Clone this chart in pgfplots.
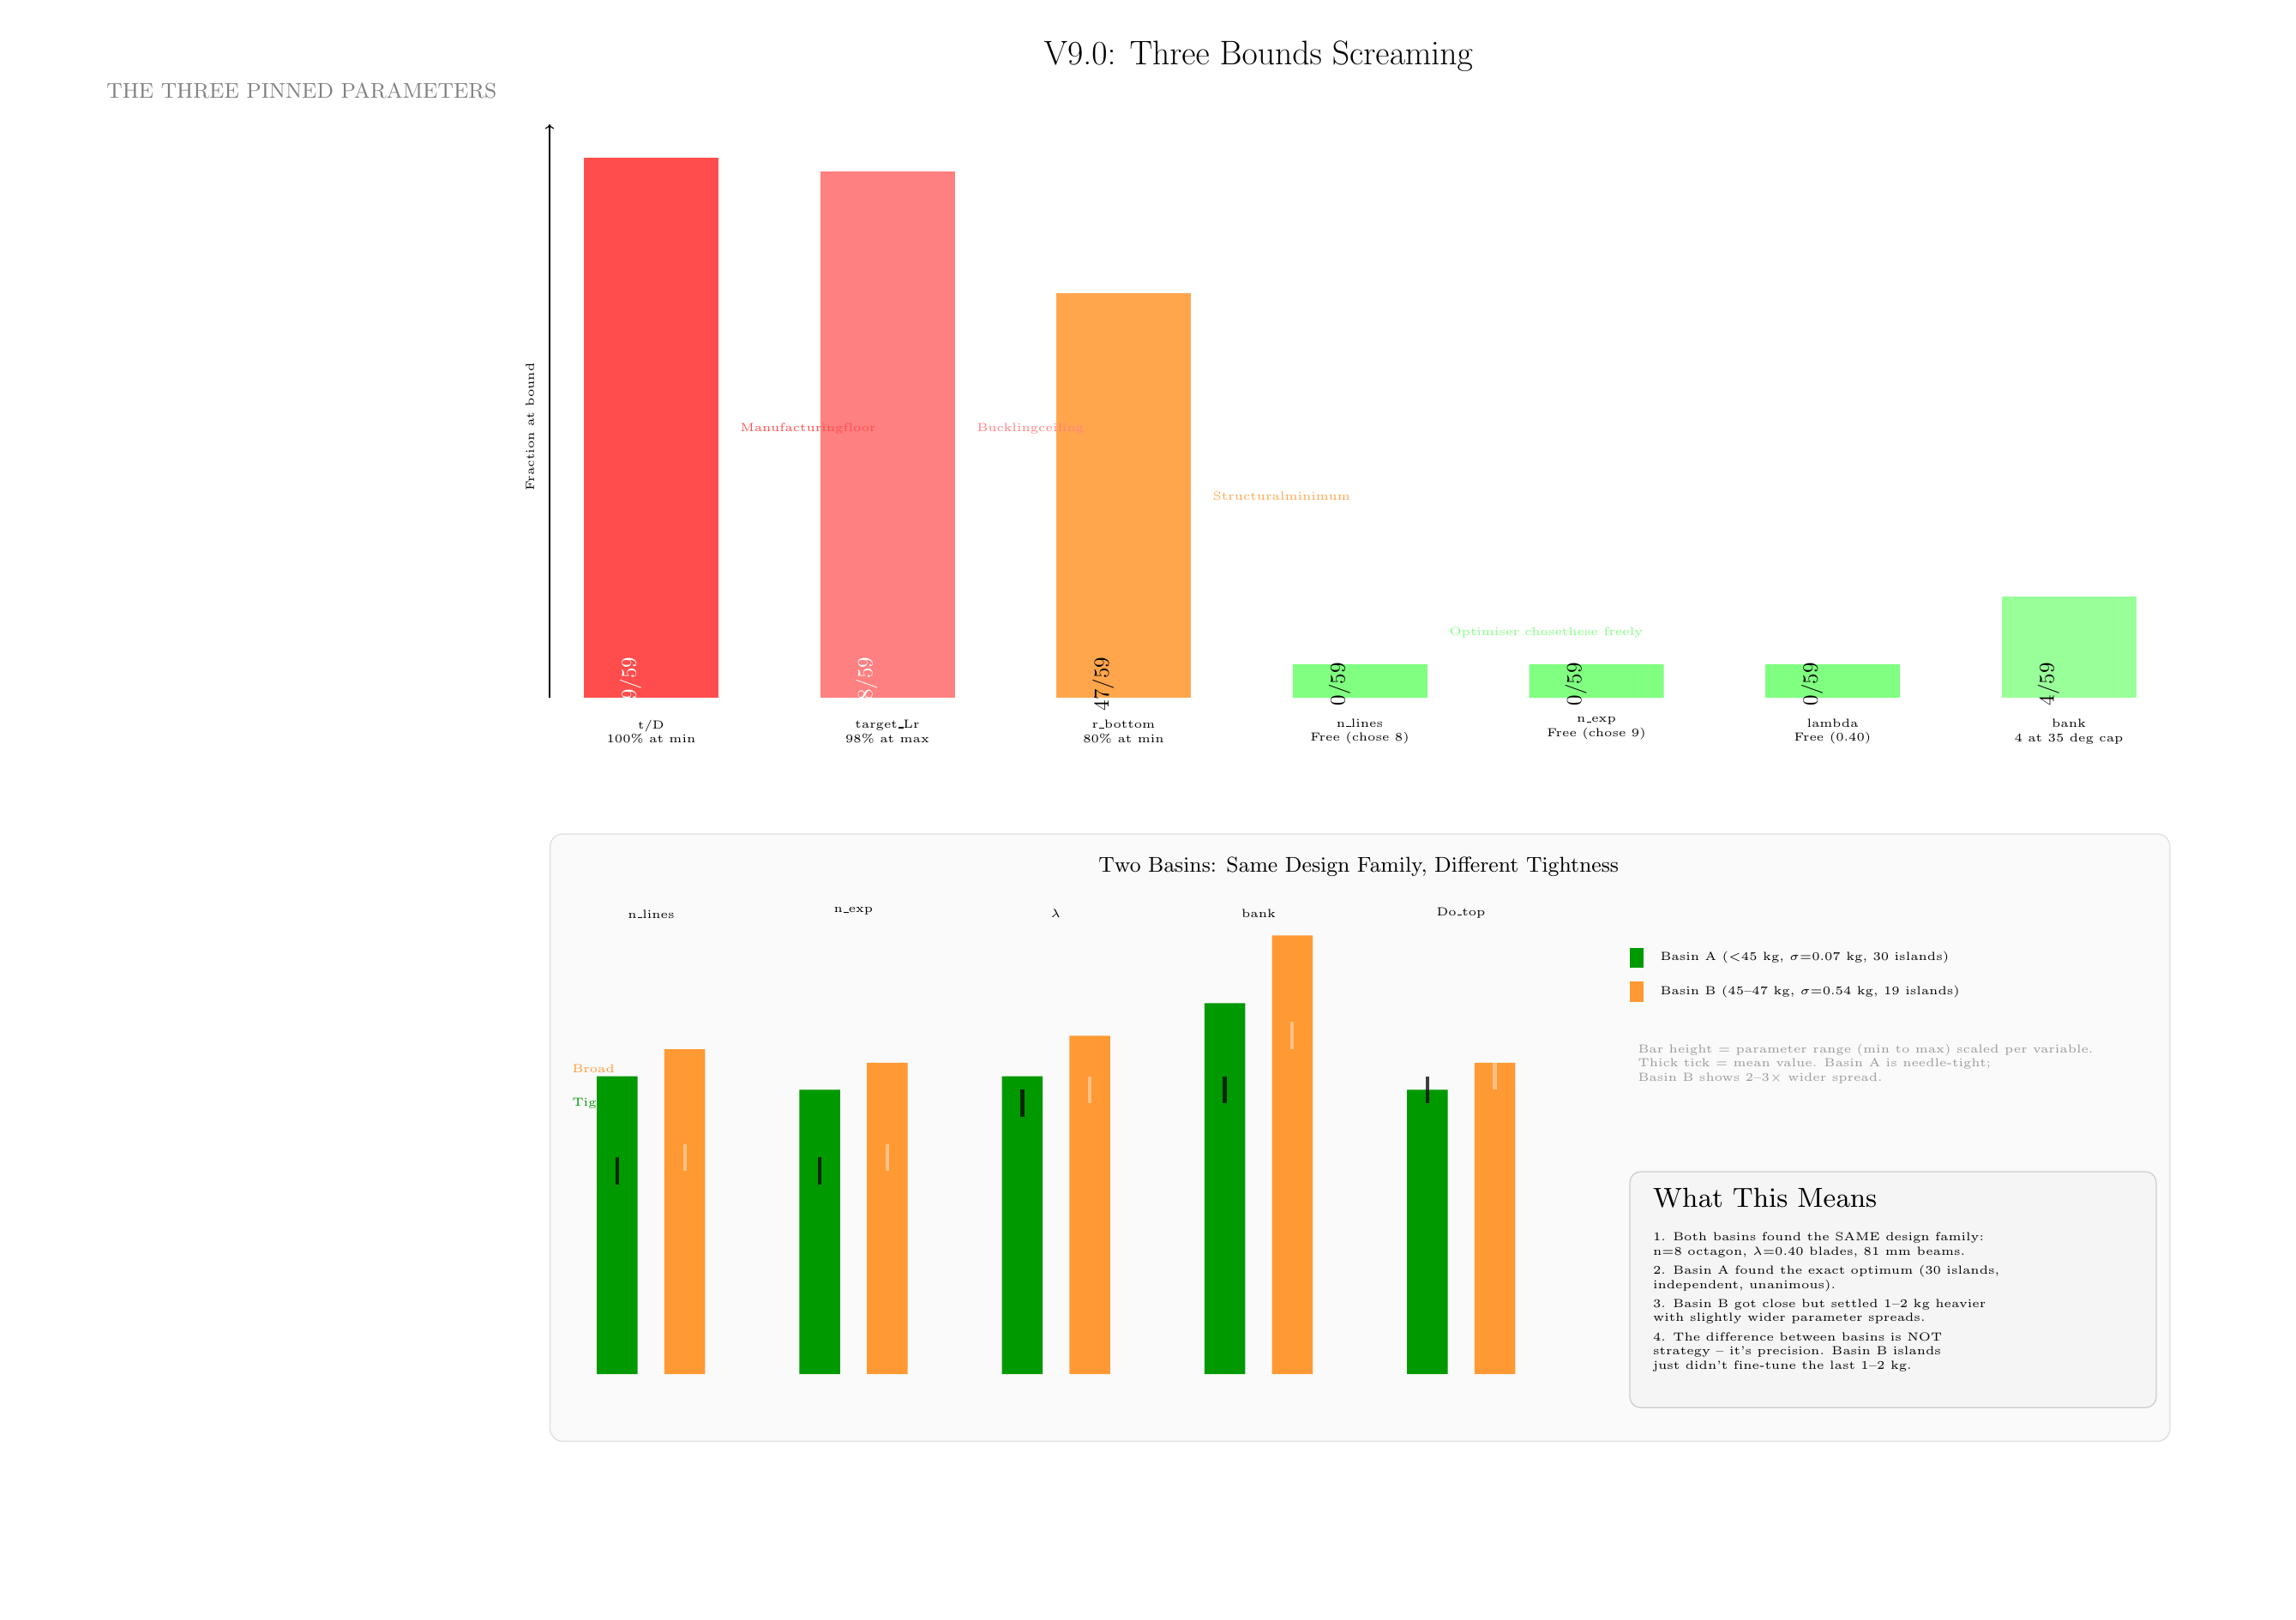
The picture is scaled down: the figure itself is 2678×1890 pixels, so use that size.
\documentclass[border=0pt]{standalone}
\usepackage[OT1]{fontenc}
\usepackage{pgfplots}
\pgfplotsset{compat=1.18}
\definecolor{rA}{HTML}{FF4D4D}
\definecolor{rB}{HTML}{FF8080}
\definecolor{oA}{HTML}{FFA64D}
\definecolor{gA}{HTML}{80FF80}
\definecolor{gB}{HTML}{99FF99}
\definecolor{basinA}{HTML}{009900}
\definecolor{basinB}{HTML}{FF9933}
\begin{document}
\begin{tikzpicture}[x=0.4pt,y=-0.4pt,
  sm/.style={inner sep=0pt,font=\tiny,scale=1.10},
  cat/.style={sm,align=center,anchor=center},
  line/.style={sm,anchor=base west},
  note/.style={sm,anchor=base west,text=black!40}]
\path[fill=white] (0,0) rectangle (2678,1890);
% panel
\draw[fill=black!2,draw=black!13,line width=0.5pt,rounded corners=6pt] (641.5,973) rectangle (2531,1681.5);
\node[anchor=center,inner sep=0pt,font=\bfseries\LARGE,scale=0.92] at (1468,66) {V9.0: Three Bounds Screaming};
\node[anchor=center,inner sep=0pt,font=\bfseries\small,text=black!50,scale=1.104] at (352,106) {THE THREE PINNED PARAMETERS};
\node[anchor=center,inner sep=0pt,font=\bfseries\small,scale=1.112] at (1585,1011) {Two Basins: Same Design Family, Different Tightness};
% labels under bars
\node[sm,anchor=base west,text=basinB] at (667,1251) {Broad};
\node[sm,anchor=base west,text=basinA] at (667,1290) {Tight};
% top chart
\begin{axis}[at={(256.4pt,-325.6pt)},anchor=south west,scale only axis,
  width=764pt,height=267.6pt,xmin=-0.4299,xmax=6.5,ymin=0,ymax=106.2,
  axis x line=none,axis y line*=left,y axis line style={-to,line width=0.6pt},
  ytick=\empty,clip=false]
\pgfplotsset{every axis plot/.append style={ybar,bar width=62.8pt,bar shift=0pt,draw=none}}
\addplot[fill=rA] coordinates {(0,100)};
\addplot[fill=rB] coordinates {(1,97.5)};
\addplot[fill=oA] coordinates {(2,75)};
\addplot[fill=gA] coordinates {(3,6.2)(4,6.2)(5,6.2)};
\addplot[fill=gB] coordinates {(6,18.7)};
\node[rotate=90,text=white,inner sep=0pt] at (axis cs:-0.087,2.54) {59/59};
\node[rotate=90,text=white,inner sep=0pt] at (axis cs:0.913,2.54) {58/59};
\node[rotate=90,inner sep=0pt] at (axis cs:1.913,2.54) {47/59};
\node[rotate=90,inner sep=0pt] at (axis cs:2.913,2.54) {0/59};
\node[rotate=90,inner sep=0pt] at (axis cs:3.913,2.54) {0/59};
\node[rotate=90,inner sep=0pt] at (axis cs:4.913,2.54) {0/59};
\node[rotate=90,inner sep=0pt] at (axis cs:5.913,2.54) {4/59};
\end{axis}
\node[sm,rotate=90,anchor=center] at (618,498) {Fraction at bound};
\node[cat] at (759.5,853.5) {t/D\\100\% at min};
\node[cat] at (1035,853.5) {target\_Lr\\98\% at max};
\node[cat] at (1310.5,853.5) {r\_bottom\\80\% at min};
\node[cat] at (1586,853.5) {n\_lines\\Free (chose 8)};
\node[cat] at (1862,850) {n\_exp\\Free (chose 9)};
\node[cat] at (2137.5,853.5) {lambda\\Free (0.40)};
\node[cat] at (2413,853.5) {bank\\4 at 35 deg cap};
\node[sm,anchor=base west,text=rA] at (863,503.5) {Manufacturingfloor};
\node[sm,anchor=base west,text=rB] at (1139,503.5) {Bucklingceiling};
\node[sm,anchor=base west,text=oA] at (1414,583.5) {Structuralminimum};
\node[sm,anchor=base west,text=gA] at (1690,741) {Optimiser chosethese freely};
% bottom chart
\begin{axis}[at={(263.72pt,-641.2pt)},anchor=south west,scale only axis,
  width=465.16pt,height=214.75pt,xmin=-0.4234,xmax=4.5,ymin=0,ymax=34,
  hide axis,clip=false]
\addplot[ybar,bar width=19pt,bar shift=-15.74pt,fill=basinA,draw=none]
  coordinates {(0,22)(1,21)(2,22)(3,27.4)(4,21)};
\addplot[ybar,bar width=19pt,bar shift=15.74pt,fill=basinB,draw=none]
  coordinates {(0,24)(1,23)(2,25)(3,32.4)(4,23)};
\addplot[black,line width=1.7pt,unbounded coords=jump,opacity=0.75,sharp plot] coordinates {
  (-0.1666,14)(-0.1666,16)(0.3,nan)
  (0.8334,14)(0.8334,16)(1.3,nan)
  (1.8334,19)(1.8334,21)(2.3,nan)
  (2.8334,20)(2.8334,22)(3.3,nan)
  (3.8334,20)(3.8334,22)};
\addplot[white,line width=1.7pt,unbounded coords=jump,opacity=0.4,sharp plot] coordinates {
  (0.1666,15)(0.1666,17)(0.5,nan)
  (1.1666,15)(1.1666,17)(1.5,nan)
  (2.1666,20)(2.1666,22)(2.5,nan)
  (3.1666,24)(3.1666,26)(3.5,nan)
  (4.1666,21)(4.1666,23)};
\end{axis}
\node[sm,anchor=center] at (759.5,1066.7) {n\_lines};
\node[sm,anchor=center] at (995.5,1063) {n\_exp};
\node[sm,anchor=center] at (1231.4,1066) {$\lambda$};
\node[sm,anchor=center] at (1468,1066) {bank};
\node[sm,anchor=center] at (1704,1065) {Do\_top};
% legend
\path[fill=basinA] (1901,1106) rectangle (1917,1129);
\path[fill=basinB] (1901,1145) rectangle (1917,1169);
\node[line] at (1936,1120) {Basin A ($<$45 kg, $\sigma$=0.07 kg, 30 islands)};
\node[line] at (1936,1160) {Basin B (45--47 kg, $\sigma$=0.54 kg, 19 islands)};
\node[note] at (1910,1228) {Bar height = parameter range (min to max) scaled per variable.};
\node[note] at (1910,1244) {Thick tick = mean value. Basin A is needle-tight;};
\node[note] at (1910,1261) {Basin B shows 2--3$\times$ wider spread.};
% box
\draw[fill=black!4,draw=black!20,line width=0.5pt,rounded corners=5pt] (1901,1367) rectangle (2515,1642.2);
\node[anchor=base west,inner sep=0pt,font=\bfseries\small,scale=1.43] at (1927.5,1408) {What This Means};
\node[line] at (1927.5,1447) {1. Both basins found the SAME design family:};
\node[line] at (1927.5,1464) {n=8 octagon, $\lambda$=0.40 blades, 81 mm beams.};
\node[line] at (1927.5,1486) {2. Basin A found the exact optimum (30 islands,};
\node[line] at (1927.5,1503) {independent, unanimous).};
\node[line] at (1927.5,1525) {3. Basin B got close but settled 1--2 kg heavier};
\node[line] at (1927.5,1541) {with slightly wider parameter spreads.};
\node[line] at (1927.5,1564) {4. The difference between basins is NOT};
\node[line] at (1927.5,1580) {strategy -- it's precision. Basin B islands};
\node[line] at (1927.5,1597) {just didn't fine-tune the last 1--2 kg.};
\end{tikzpicture}
\end{document}
